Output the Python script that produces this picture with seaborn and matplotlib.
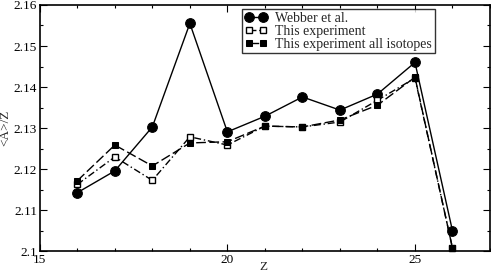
import matplotlib
matplotlib.use("Agg")
import matplotlib.pyplot as plt
import seaborn as sns
import pandas as pd
from matplotlib.ticker import MultipleLocator

# Data
z = [16, 17, 18, 19, 20, 21, 22, 23, 24, 25, 26]
webber = [2.1143, 2.1196, 2.1303, 2.1555, 2.1291, 2.1329, 2.1376, 2.1344, 2.1383, 2.1460, 2.1050]
this_exp = [2.1163, 2.1230, 2.1173, 2.1279, 2.1259, 2.1305, 2.1303, 2.1315, 2.1368, 2.1422, 2.1008]
all_iso = [2.1172, 2.1259, 2.1208, 2.1264, 2.1267, 2.1305, 2.1303, 2.1320, 2.1356, 2.1424, 2.1008]

sns.set_theme(style="ticks")
plt.rcParams["font.family"] = ["Liberation Serif", "DejaVu Serif"]

fig = plt.figure(figsize=(4.91, 2.73), dpi=100)
ax = fig.add_axes([0.081, 0.079, 0.917, 0.903])

df_w = pd.DataFrame({"Z": z, "val": webber})
df_t = pd.DataFrame({"Z": z, "val": this_exp})
df_a = pd.DataFrame({"Z": z, "val": all_iso})

sns.lineplot(data=df_w, x="Z", y="val", ax=ax, color="black", lw=1.0,
             marker="o", markersize=7, markerfacecolor="black",
             markeredgecolor="black", label="Webber et al.", clip_on=False)
sns.lineplot(data=df_t, x="Z", y="val", ax=ax, color="black", lw=1.0,
             linestyle=(0, (5, 2, 1, 2)), marker="s", markersize=5,
             markerfacecolor="white", markeredgecolor="black", markeredgewidth=1.0,
             label="This experiment", clip_on=False)
sns.lineplot(data=df_a, x="Z", y="val", ax=ax, color="black", lw=1.0,
             linestyle=(0, (7, 2.5)), marker="s", markersize=5,
             markerfacecolor="black", markeredgecolor="black",
             label="This experiment all isotopes", clip_on=False)

ax.set_xlim(15, 27)
ax.set_ylim(2.1, 2.16)
ax.xaxis.set_major_locator(MultipleLocator(5))
ax.xaxis.set_minor_locator(MultipleLocator(1))
ax.yaxis.set_major_locator(MultipleLocator(0.01))
ax.yaxis.set_minor_locator(MultipleLocator(0.005))
ax.yaxis.set_major_formatter(plt.FuncFormatter(
    lambda v, p: "2.1" if abs(v - 2.1) < 1e-9 else f"{v:.2f}"))
ax.tick_params(which="both", direction="in", top=True, right=True, labelsize=9.5,
               colors="black", pad=2)
ax.tick_params(which="major", length=5, width=0.8)
ax.tick_params(which="minor", length=2.5, width=0.8)
for s in ax.spines.values():
    s.set_linewidth(1.2)
    s.set_color("black")

ax.set_xlabel("Z", fontsize=9.5)
ax.set_ylabel("<A>/Z", fontsize=9.5)
ax.xaxis.set_label_coords(0.496, -0.037)
ax.yaxis.set_label_coords(-0.062, 0.5)

leg = ax.legend(loc="upper left", bbox_to_anchor=(0.449, 0.984), numpoints=2,
                handlelength=1.6, handletextpad=0.6, fontsize=10, frameon=True,
                fancybox=False, borderpad=0.2, labelspacing=0.0, borderaxespad=0)
leg.get_frame().set_edgecolor("black")
leg.get_frame().set_linewidth(1.0)

fig.savefig("out.png", dpi=100)
